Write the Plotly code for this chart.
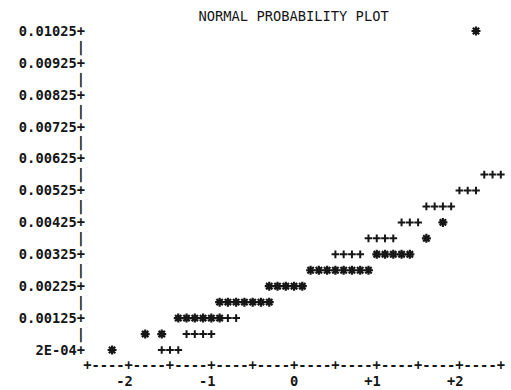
import plotly.graph_objects as go

# Observed values (*) against normal quantiles
obs_q = [-2.2,
         -1.8, -1.6,
         -1.4, -1.3, -1.2, -1.1, -1.0, -0.9,
         -0.9, -0.8, -0.7, -0.6, -0.5, -0.4, -0.3,
         -0.3, -0.2, -0.1, 0.0, 0.1,
         0.2, 0.3, 0.4, 0.5, 0.6, 0.7, 0.8, 0.9,
         1.0, 1.1, 1.2, 1.3, 1.4,
         1.6,
         1.8,
         2.2]
obs_val = [0.00025,
           0.00075, 0.00075,
           0.00125, 0.00125, 0.00125, 0.00125, 0.00125, 0.00125,
           0.00175, 0.00175, 0.00175, 0.00175, 0.00175, 0.00175, 0.00175,
           0.00225, 0.00225, 0.00225, 0.00225, 0.00225,
           0.00275, 0.00275, 0.00275, 0.00275, 0.00275, 0.00275, 0.00275, 0.00275,
           0.00325, 0.00325, 0.00325, 0.00325, 0.00325,
           0.00375,
           0.00425,
           0.01025]

# Reference normal line (+), visible where not covered by observations
ref_q = [-1.6, -1.5, -1.4,
         -1.3, -1.2, -1.1, -1.0,
         -0.8, -0.7,
         0.5, 0.6, 0.7, 0.8,
         0.9, 1.0, 1.1, 1.2,
         1.3, 1.4, 1.5,
         1.6, 1.7, 1.8, 1.9,
         2.0, 2.1, 2.2,
         2.3, 2.4, 2.5]
ref_val = [0.00025, 0.00025, 0.00025,
           0.00075, 0.00075, 0.00075, 0.00075,
           0.00125, 0.00125,
           0.00325, 0.00325, 0.00325, 0.00325,
           0.00375, 0.00375, 0.00375, 0.00375,
           0.00425, 0.00425, 0.00425,
           0.00475, 0.00475, 0.00475, 0.00475,
           0.00525, 0.00525, 0.00525,
           0.00575, 0.00575, 0.00575]

# Vertical axis: one print line per 0.0005, labelled every other line
y_lines = [0.00025 + 0.0005 * i for i in range(21)]
y_labels = {0: "2E-04", 2: "0.00125", 4: "0.00225", 6: "0.00325", 8: "0.00425",
            10: "0.00525", 12: "0.00625", 14: "0.00725", 16: "0.00825",
            18: "0.00925", 20: "0.01025"}

# Horizontal axis: one print column per 0.1 normal quantile
x_cols = [round(-2.5 + 0.1 * i, 1) for i in range(51)]
x_major = [-2, -1, 0, 1, 2]
x_major_text = ["-2\u00a0", "-1\u00a0", "0", "+1\u00a0", "+2\u00a0"]

INK = "#161616"
MONO = "DejaVu Sans Mono"
FS = 13.74
X_RANGE = [-2.5157, 2.5629]
Y_RANGE = [0.0000933, 0.010532]

y_text = [(y_labels[i] + "+") if i in y_labels else "|" for i in range(len(y_lines))]
x_text = ["+" if i % 5 == 0 else "-" for i in range(len(x_cols))]
tick_font = dict(family=MONO, size=FS, color=INK, weight="bold")

fig = go.Figure()
fig.add_trace(go.Scatter(
    x=ref_q, y=ref_val, mode="markers",
    marker=dict(symbol="cross-thin-open", size=5.5, color=INK,
                line=dict(width=2.0, color=INK)),
    hoverinfo="skip", showlegend=False))
fig.add_trace(go.Scatter(
    x=obs_q, y=obs_val, mode="markers",
    marker=dict(symbol="asterisk-open", size=7.5, color=INK,
                line=dict(width=2.2, color=INK)),
    hoverinfo="skip", showlegend=False))
# empty trace so the second (numbered) quantile axis is laid out
fig.add_trace(go.Scatter(x=[], y=[], xaxis="x2", yaxis="y", mode="markers",
                         hoverinfo="skip", showlegend=False))

fig.update_layout(
    width=511, height=390,
    margin=dict(l=86, r=5, t=22, b=35),
    paper_bgcolor="white", plot_bgcolor="white",
    title=dict(text="NORMAL PROBABILITY PLOT", x=293.6 / 511, xanchor="center",
               xref="container", y=1 - 16 / 390, yanchor="middle", yref="container",
               font=dict(family=MONO, size=FS, color=INK)),
    font=dict(family=MONO, size=FS, color=INK),
    xaxis=dict(range=X_RANGE, showgrid=False, zeroline=False, showline=False,
               tickmode="array", tickvals=x_cols, ticktext=x_text, tickangle=0,
               ticks="", automargin=False, tickfont=tick_font),
    xaxis2=dict(range=X_RANGE, overlaying="x", anchor="y", side="bottom",
                showgrid=False, zeroline=False, showline=False,
                tickmode="array", tickvals=x_major, ticktext=x_major_text,
                tickangle=0, ticks="", automargin=False, ticklabelstandoff=16,
                tickfont=tick_font),
    yaxis=dict(range=Y_RANGE, showgrid=False, zeroline=False,
               showline=False, tickmode="array", tickvals=y_lines, ticktext=y_text,
               ticks="", automargin=False, tickfont=tick_font),
)

fig.write_html("out.html")
